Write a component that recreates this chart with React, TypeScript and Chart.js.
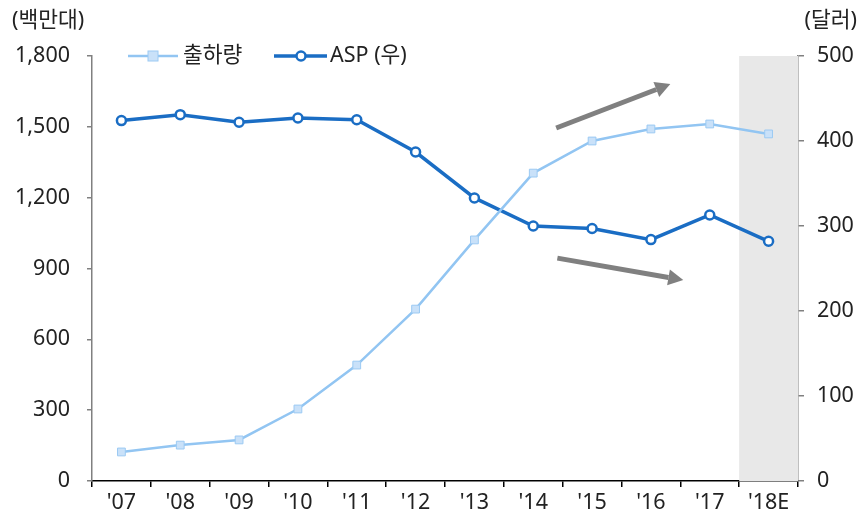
import React, { useEffect, useRef } from 'react';
import { Chart, registerables } from 'chart.js';

Chart.register(...registerables);

const categories = ["'07", "'08", "'09", "'10", "'11", "'12", "'13", "'14", "'15", "'16", "'17", "'18E"];
const shipments = [123, 152, 174, 305, 491, 728, 1021, 1304, 1440, 1491, 1512, 1470];
const asp = [424, 431, 422, 427, 425, 387, 333, 300, 297, 284, 313, 282];
const shadedCategory = "'18E";
// trend arrows in data coordinates: [category index, left-axis value]
const arrowUp = { from: [7.39, 1495], to: [9.33, 1681] };
const arrowDown = { from: [7.41, 944], to: [9.55, 851] };
const arrows = [arrowUp, arrowDown];

const FONT = "'Noto Sans', 'Noto Sans CJK KR', sans-serif";
const FS = 21.5;
const LIGHT_LINE = '#92c5f2';
const LIGHT_FILL = '#c9e1f9';
const LIGHT_BORDER = '#9ccaf3';
const DARK = '#1a6dc4';
const TEXT = '#222222';

const overlay = {
  id: 'overlay',
  beforeDatasetsDraw(chart: any) {
    const { ctx, chartArea } = chart;
    const x = chart.scales.x;
    const idx = categories.indexOf(shadedCategory);
    const half = (x.getPixelForValue(1) - x.getPixelForValue(0)) / 2;
    const x0 = x.getPixelForValue(idx) - half;
    ctx.save();
    ctx.fillStyle = '#e8e8e8';
    ctx.fillRect(x0, chartArea.top, chartArea.right - x0, chartArea.bottom - chartArea.top);
    ctx.restore();
  },
  afterDatasetsDraw(chart: any) {
    const { ctx } = chart;
    const x = chart.scales.x;
    const y = chart.scales.y;
    ctx.save();
    ctx.strokeStyle = '#808080';
    ctx.fillStyle = '#808080';
    ctx.lineWidth = 5;
    for (const a of arrows) {
      const x1 = x.getPixelForValue(a.from[0]);
      const y1 = y.getPixelForValue(a.from[1]);
      const x2 = x.getPixelForValue(a.to[0]);
      const y2 = y.getPixelForValue(a.to[1]);
      const ang = Math.atan2(y2 - y1, x2 - x1);
      const headLen = 15;
      const headW = 8;
      const bx = x2 - headLen * Math.cos(ang);
      const by = y2 - headLen * Math.sin(ang);
      ctx.beginPath();
      ctx.moveTo(x1, y1);
      ctx.lineTo(bx, by);
      ctx.stroke();
      ctx.beginPath();
      ctx.moveTo(x2, y2);
      ctx.lineTo(bx + headW * Math.sin(ang), by - headW * Math.cos(ang));
      ctx.lineTo(bx - headW * Math.sin(ang), by + headW * Math.cos(ang));
      ctx.closePath();
      ctx.fill();
    }
    ctx.restore();
  },
  afterDraw(chart: any) {
    const { ctx, chartArea } = chart;
    ctx.save();
    ctx.font = `${FS}px ${FONT}`;
    ctx.fillStyle = TEXT;
    ctx.textBaseline = 'middle';
    // axis titles
    ctx.textAlign = 'left';
    ctx.fillText('(백만대)', 12, 21);
    ctx.textAlign = 'right';
    ctx.fillText('(달러)', 857, 21);
    // legend
    const ly = chartArea.top;
    let lx = chartArea.left + 36;
    ctx.textAlign = 'left';
    // series 1
    ctx.strokeStyle = LIGHT_LINE;
    ctx.lineWidth = 2.5;
    ctx.beginPath();
    ctx.moveTo(lx, ly);
    ctx.lineTo(lx + 50, ly);
    ctx.stroke();
    ctx.fillStyle = LIGHT_FILL;
    ctx.fillRect(lx + 20, ly - 5, 10, 10);
    ctx.strokeStyle = LIGHT_BORDER;
    ctx.lineWidth = 1;
    ctx.strokeRect(lx + 20, ly - 5, 10, 10);
    ctx.fillStyle = TEXT;
    ctx.fillText('출하량', lx + 55, ly);
    lx = lx + 146;
    // series 2
    ctx.strokeStyle = DARK;
    ctx.lineWidth = 3.5;
    ctx.beginPath();
    ctx.moveTo(lx, ly);
    ctx.lineTo(lx + 53, ly);
    ctx.stroke();
    ctx.beginPath();
    ctx.arc(lx + 27, ly, 4.5, 0, Math.PI * 2);
    ctx.fillStyle = '#ffffff';
    ctx.fill();
    ctx.lineWidth = 2.5;
    ctx.stroke();
    ctx.fillStyle = TEXT;
    ctx.fillText('ASP (우)', lx + 56, ly);
    ctx.restore();
  },
};

export default function App() {
  const ref = useRef<HTMLCanvasElement | null>(null);
  useEffect(() => {
    if (!ref.current) return;
    const chart = new Chart(ref.current, {
      type: 'line',
      data: {
        labels: categories,
        datasets: [
          {
            label: '출하량',
            data: shipments,
            yAxisID: 'y',
            borderColor: LIGHT_LINE,
            borderWidth: 2.5,
            pointStyle: 'rect',
            pointRadius: 5.5,
            pointBackgroundColor: LIGHT_FILL,
            pointBorderColor: LIGHT_BORDER,
            pointBorderWidth: 1,
            tension: 0,
          },
          {
            label: 'ASP (우)',
            data: asp,
            yAxisID: 'y1',
            borderColor: DARK,
            borderWidth: 3.5,
            pointStyle: 'circle',
            pointRadius: 4.5,
            pointBackgroundColor: '#ffffff',
            pointBorderColor: DARK,
            pointBorderWidth: 2.5,
            tension: 0,
          },
        ],
      },
      options: {
        animation: false,
        responsive: true,
        maintainAspectRatio: false,
        layout: { padding: { top: 56, left: 0, right: 0, bottom: 0 } },
        plugins: { legend: { display: false }, tooltip: { enabled: false }, title: { display: false } },
        scales: {
          x: {
            type: 'category',
            offset: true,
            grid: { offset: true, drawOnChartArea: false, drawTicks: true, tickLength: 6, color: '#000000', lineWidth: 1.5 },
            border: { display: true, color: '#000000', width: 1.5 },
            ticks: { font: { size: FS, family: FONT }, color: TEXT, padding: 3, maxRotation: 0, autoSkip: false },
            afterFit: (s: any) => { s.height = 36; },
          },
          y: {
            position: 'left',
            min: 0,
            max: 1800,
            ticks: {
              stepSize: 300,
              font: { size: FS, family: FONT },
              color: TEXT,
              padding: 17,
              callback: (v: any) => Number(v).toLocaleString('en-US'),
            },
            grid: { drawOnChartArea: false, drawTicks: true, tickLength: 5, color: '#808080', lineWidth: 1.5 },
            border: { display: true, color: '#808080', width: 1.5 },
            afterFit: (s: any) => { s.width = 92; },
          },
          y1: {
            position: 'right',
            min: 0,
            max: 500,
            ticks: { stepSize: 100, font: { size: FS, family: FONT }, color: TEXT, padding: 13 },
            grid: { drawOnChartArea: false, drawTicks: true, tickLength: 6, color: '#808080', lineWidth: 1.5 },
            border: { display: true, color: '#808080', width: 1.5 },
            afterFit: (s: any) => { s.width = 62; },
          },
        },
      },
      plugins: [overlay],
    });
    return () => chart.destroy();
  }, []);
  return (
    <div style={{ position: 'fixed', left: 0, top: 0, width: 860, height: 517, background: '#ffffff' }}>
      <canvas ref={ref} />
    </div>
  );
}
